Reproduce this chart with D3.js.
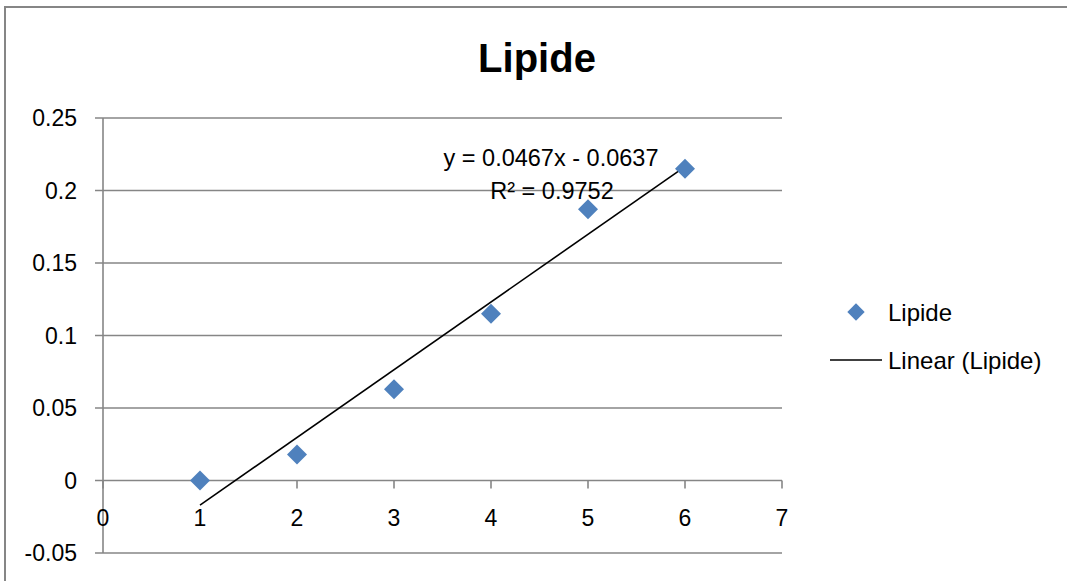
<!DOCTYPE html>
<html lang="en">
<head>
<meta charset="UTF-8">
<title>Lipide</title>
<script src="https://d3js.org/d3.v7.min.js"></script>
<style>
  body { margin: 0; background: white; font-family: "Liberation Sans", Arial, sans-serif; }
  svg { display: block; }
</style>
</head>
<body>
<svg id="chart" width="1067" height="581"></svg>
<script>
// data
const xValues = [1, 2, 3, 4, 5, 6];
const yValues = [0, 0.018, 0.063, 0.115, 0.187, 0.215];
const xTicks = [0, 1, 2, 3, 4, 5, 6, 7];
const yTicks = [-0.05, 0, 0.05, 0.1, 0.15, 0.2, 0.25];
const slope = 0.0467, intercept = -0.0637;

const svg = d3.select("#chart");
const grid = "#868686";

// outer chart frame (runs off right and bottom)
svg.append("path")
  .attr("d", "M5,590 V7 H1075")
  .attr("fill", "none").attr("stroke", grid).attr("stroke-width", 2);

const x = d3.scaleLinear().domain([0, 7]).range([103, 782]);
const y = d3.scaleLinear().domain([-0.05, 0.25]).range([553, 118]);

// horizontal gridlines
svg.selectAll("line.grid").data(yTicks).enter().append("line")
  .attr("x1", x(0) - 8).attr("x2", x(7))
  .attr("y1", d => y(d)).attr("y2", d => y(d))
  .attr("stroke", grid).attr("stroke-width", 1.6);

// y axis line
svg.append("line")
  .attr("x1", x(0)).attr("x2", x(0)).attr("y1", y(0.25)).attr("y2", y(-0.05))
  .attr("stroke", grid).attr("stroke-width", 1.6);

// x tick marks at y=0
svg.selectAll("line.xt").data(xTicks).enter().append("line")
  .attr("x1", d => x(d)).attr("x2", d => x(d))
  .attr("y1", y(0)).attr("y2", y(0) + 8)
  .attr("stroke", grid).attr("stroke-width", 1.6);

// y tick labels
svg.selectAll("text.yl").data(yTicks).enter().append("text")
  .attr("x", 77).attr("y", d => y(d)).attr("dy", "0.36em")
  .attr("text-anchor", "end").style("font-size", "23px")
  .text(d => d === 0 ? "0" : String(d));

// x tick labels
svg.selectAll("text.xl").data(xTicks).enter().append("text")
  .attr("x", d => x(d)).attr("y", y(0) + 45)
  .attr("text-anchor", "middle").style("font-size", "23px")
  .text(d => d);

// trendline
svg.append("line")
  .attr("x1", x(1)).attr("y1", y(slope * 1 + intercept))
  .attr("x2", x(6)).attr("y2", y(slope * 6 + intercept))
  .attr("stroke", "black").attr("stroke-width", 1.6);

// points
const diamond = d3.symbol().type(d3.symbolSquare).size(200);
svg.selectAll("path.pt").data(xValues).enter().append("path")
  .attr("d", diamond)
  .attr("transform", (d, i) => `translate(${x(d)},${y(yValues[i])}) rotate(45)`)
  .attr("fill", "#4F81BD");

// title
svg.append("text").attr("x", 537).attr("y", 72)
  .attr("text-anchor", "middle").style("font-size", "40px").style("font-weight", "bold")
  .text("Lipide");

// equation
svg.append("text").attr("x", 551).attr("y", 166)
  .attr("text-anchor", "middle").style("font-size", "23.5px")
  .text("y = 0.0467x - 0.0637");
svg.append("text").attr("x", 552).attr("y", 199)
  .attr("text-anchor", "middle").style("font-size", "23.5px")
  .text("R² = 0.9752");

// legend
svg.append("path").attr("d", d3.symbol().type(d3.symbolSquare).size(150))
  .attr("transform", "translate(856,312) rotate(45)").attr("fill", "#4F81BD");
svg.append("text").attr("x", 888).attr("y", 312).attr("dy", "0.36em")
  .style("font-size", "24px").text("Lipide");
svg.append("line").attr("x1", 830).attr("x2", 882).attr("y1", 360).attr("y2", 360)
  .attr("stroke", "black").attr("stroke-width", 1.6);
svg.append("text").attr("x", 888).attr("y", 360).attr("dy", "0.36em")
  .style("font-size", "24px").text("Linear (Lipide)");
</script>
</body>
</html>
